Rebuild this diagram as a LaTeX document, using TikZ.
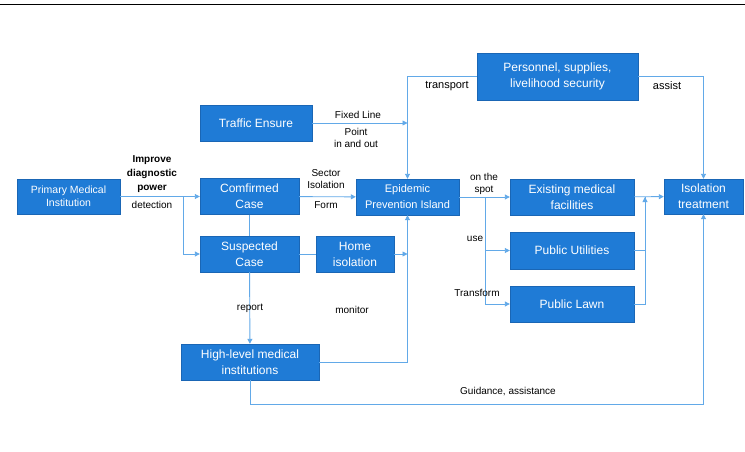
\documentclass[tikz,border=0pt]{standalone}
\usepackage{fontspec}
\setmainfont{Liberation Sans}
\usetikzlibrary{arrows.meta}
\definecolor{boxblue}{HTML}{1F7BD6}
\definecolor{boxedge}{HTML}{1A66B5}
\definecolor{linkblue}{HTML}{62A9E8}
\tikzset{
	box/.style = {draw = boxedge, fill = boxblue, text = white, align = center, inner sep = 0pt,
		minimum height = 36pt, font = \fontsize{12}{16}\selectfont},
	lbl/.style = {align = center, inner sep = 0pt, font = \fontsize{10}{12}\selectfont},
	link/.style = {draw = linkblue, line width = .9pt},
	arr/.style = {link, -{Triangle[length = 5pt, width = 5pt]}}
}
\begin{document}
\begin{tikzpicture}[x = 1pt, y = -1pt]
		\useasboundingbox (0, 0) rectangle (745, 452);
		\draw [line width = 1.6pt] (0, 4.5) -- (745, 4.5);
		% boxes
		\node[box, minimum width = 103pt, minimum height = 35pt, font = \fontsize{10.5}{13}\selectfont] (prim) at (68.5, 196.5) {Primary Medical\\Institution};
		\node[box, minimum width = 99pt] (conf) at (249.5, 196.5) {Comfirmed\\Case};
		\node[box, minimum width = 99pt] (susp) at (249.5, 254) {Suspected\\Case};
		\node[box, minimum width = 78pt] (home) at (355, 254) {Home\\isolation};
		\node[box, minimum width = 112pt] (traffic) at (256, 123) {Traffic Ensure};
		\node[box, minimum width = 161pt, minimum height = 47pt] (pers) at (557.5, 76.5) {Personnel, supplies,\\livelihood security};
		\node[box, minimum width = 103pt, font = \fontsize{11}{16}\selectfont] (epid) at (407.5, 197) {Epidemic\\Prevention Island};
		\node[box, minimum width = 124pt] (exist) at (572, 197) {Existing medical\\facilities};
		\node[box, minimum width = 124pt, minimum height = 37pt] (util) at (572, 250.5) {Public Utilities};
		\node[box, minimum width = 124pt] (lawn) at (572, 304) {Public Lawn};
		\node[box, minimum width = 79pt, minimum height = 35pt] (isol) at (703.5, 196.5) {Isolation\\treatment};
		\node[box, minimum width = 138pt] (high) at (250, 362) {High-level medical\\institutions};
		% joints
		\coordinate (br1) at (183, 196.5);
		\coordinate (br2) at (485, 197);
		\coordinate (mg) at (645, 197);
		\coordinate (low) at (0, 404);
		% connectors
		\foreach \a/\b in {prim/conf, conf/epid, epid/exist, exist/isol, susp/high}{
			\draw[arr] (\a) -- (\b);}
		\foreach \a/\b in {conf/susp, susp/home}{
			\draw[link] (\a) -- (\b);}
		\foreach \a/\b in {br1/susp, br2/util, br2/lawn}{
			\draw[arr] (\a) |- (\b);}
		\foreach \a/\b in {pers/epid, pers/isol, high/epid, lawn/mg}{
			\draw[arr] (\a) -| (\b);}
		\draw[link] (util) -| (mg);
		\draw[arr] (traffic) -- (traffic -| epid);
		\draw[arr] (home) -- (home -| epid);
		\draw[arr] (high) -- (high |- low) -| (isol);
		% labels
		\node[lbl, font = \bfseries\fontsize{10}{14}\selectfont] (improve) at (152, 174) {Improve\\diagnostic\\power};
		\node[lbl] (detect) at (152, 205) {detection};
		\node[lbl] (sector) at (326, 179) {Sector\\Isolation};
		\node[lbl] (form) at (326, 205) {Form};
		\node[lbl] (fixed) at (358, 115) {Fixed Line};
		\node[lbl] (point) at (356, 137.5) {Point\\in and out};
		\node[lbl, font = \fontsize{11}{13}\selectfont] (transport) at (447, 86) {transport};
		\node[lbl, font = \fontsize{11}{13}\selectfont] (assist) at (667, 86) {assist};
		\node[lbl] (spot) at (484, 184) {on the\\spot};
		\node[lbl] (use) at (475, 239) {use};
		\node[lbl] (transform) at (477, 293) {Transform};
		\node[lbl] (report) at (250, 308) {report};
		\node[lbl] (monitor) at (352, 310) {monitor};
		\node[lbl] (guide) at (508, 392) {Guidance, assistance};
\end{tikzpicture}
\end{document}
